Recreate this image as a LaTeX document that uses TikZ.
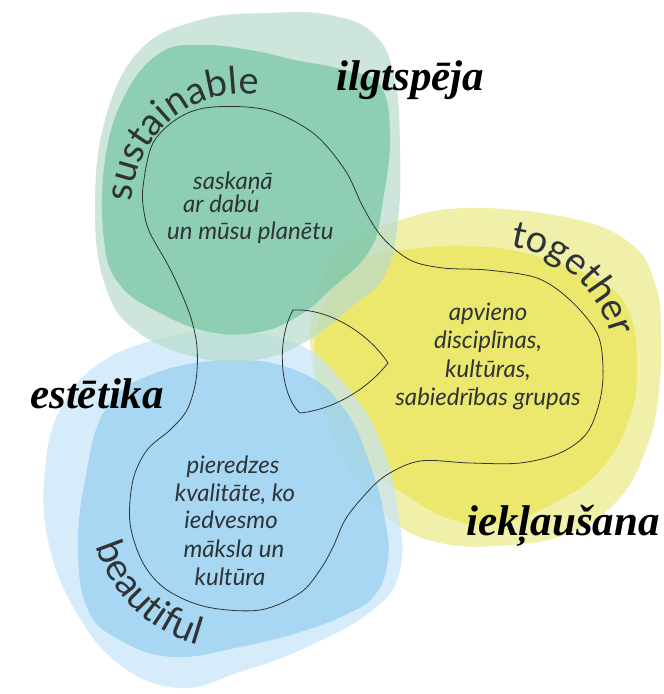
\documentclass[tikz,border=0pt]{standalone}
\usepackage{fontspec}
\setmainfont{Liberation Serif}
\setsansfont{Lato}
\usetikzlibrary{decorations.text}
\definecolor{gL}{HTML}{B8DBCD}
\definecolor{gD}{HTML}{74C5A3}
\definecolor{yL}{HTML}{ECEA86}
\definecolor{yD}{HTML}{E9E654}
\definecolor{bL}{HTML}{C6E4F8}
\definecolor{bD}{HTML}{94CFF0}
\definecolor{ink}{HTML}{2E3436}
\newcommand{\curvefont}{\sffamily\fontsize{38}{38}\selectfont\color{ink}}
\begin{document}
\begin{tikzpicture}[x=1pt,y=-1pt,
  blob/.style={draw=none, fill opacity=0.7},
  thinline/.style={draw=ink, line width=0.8pt},
  biglabel/.style={font=\bfseries\itshape\fontsize{43}{43}\selectfont, text=black, inner sep=0pt, anchor=base west},
  innertext/.style={font=\sffamily\itshape\fontsize{24}{24}\selectfont, text=ink, inner sep=0pt, anchor=base}]
\useasboundingbox (0,0) rectangle (664,694);
\fill[white] (0,0) rectangle (664,694);
% yellow blobs
\fill[blob, yL] plot[smooth cycle, tension=0.7] coordinates {(345,245) (400,220) (470,208) (570,218) (630,243) (655,283) (661,333) (658,400) (645,452) (618,500) (570,533) (510,545) (440,543) (387,517) (347,467) (320,400) (310,333) (320,285)};
\fill[blob, yD] plot[smooth cycle, tension=0.7] coordinates {(353,262) (403,250) (470,246) (537,256) (603,283) (630,315) (637,367) (630,417) (603,467) (560,500) (503,523) (453,520) (403,493) (353,453) (323,400) (315,340) (330,293)};
% blue blobs
\fill[blob, bL] plot[smooth cycle, tension=0.7] coordinates {(167,337) (233,332) (300,345) (345,385) (380,440) (398,510) (400,570) (373,610) (307,647) (240,672) (180,688) (120,665) (75,610) (48,540) (45,470) (60,410) (100,363)};
\fill[blob, bD] plot[smooth cycle, tension=0.7] coordinates {(150,375) (230,360) (300,372) (345,410) (372,470) (385,520) (388,560) (375,595) (345,615) (300,632) (240,647) (173,657) (120,640) (88,610) (78,550) (85,480) (105,410)};
% green blobs
\fill[blob, gL] plot[smooth cycle, tension=0.7] coordinates {(267,13) (330,15) (375,35) (395,80) (400,150) (398,220) (385,275) (350,308) (305,342) (255,360) (195,357) (135,330) (105,285) (95,210) (105,120) (140,50) (200,20)};
\fill[blob, gD] plot[smooth cycle, tension=0.7] coordinates {(160,53) (200,45) (250,50) (295,60) (345,70) (380,85) (390,135) (383,200) (370,250) (330,290) (300,315) (260,332) (210,332) (160,313) (120,285) (104,240) (105,160) (125,95)};
% thin outline
\draw[thinline] plot[smooth cycle, tension=0.55] coordinates {(150,233) (168,265) (180,290) (191,318) (197,347) (196,380) (187,410) (170,430) (147,450) (133,480) (130,523) (143,563) (167,590) (207,607) (260,610) (300,593) (320,570) (333,547) (345,520) (362,498) (385,476) (420,461) (470,463) (520,463) (560,453) (587,433) (600,400) (603,367) (597,333) (570,300) (537,278) (487,270) (443,268) (410,260) (382,237) (363,207) (345,170) (313,133) (267,110) (213,107) (180,117) (153,143) (143,187) (144,212)};
% lens
\coordinate (lt) at (293,310);
\coordinate (lr) at (388,363);
\coordinate (lb) at (300,413);
\draw[thinline] (lt) .. controls (330,308) and (370,335) .. (lr) .. controls (365,392) and (330,410) .. (lb) .. controls (280,395) and (276,340) .. (lt);
% curved labels
\path[decorate, decoration={text along path, text align=center, text={|\curvefont|sustainable}}]
  plot[domain=0:1, samples=80, variable=\t] ({243+111*cos(200-140*\t)},{205-111*sin(200-140*\t)});
\path[decorate, decoration={text along path, text align=center, text={|\curvefont|together}}]
  plot[domain=0:1, samples=80, variable=\t] ({493+122*cos(100-104*\t)},{367-122*sin(100-104*\t)});
\path[decorate, decoration={text along path, text align=center, text={|\curvefont|beautiful}}]
  plot[domain=0:1, samples=80, variable=\t] ({235+145*cos(170+112*\t)},{505-145*sin(170+112*\t)});
% big labels
\node[biglabel] (ilg) at (336,90) {ilgtspēja};
\node[biglabel] (est) at (30,408) {estētika};
\node[biglabel] (iek) at (466,535) {iekļaušana};
% inner texts green
\node[innertext, anchor=base west] (g1) at (193,189) {saskaņā};
\node[innertext, anchor=base west] (g2) at (183,212) {ar dabu};
\node[innertext, anchor=base west] (g3) at (167,239) {un mūsu planētu};
% inner texts yellow
\node[innertext] (y1) at (488,320) {apvieno};
\node[innertext] (y2) at (488,348) {disciplīnas,};
\node[innertext] (y3) at (488,377) {kultūras,};
\node[innertext] (y4) at (488,405) {sabiedrības grupas};
% inner texts blue
\node[innertext] (b1) at (233,473) {pieredzes};
\node[innertext] (b2) at (235,501) {kvalitāte, ko};
\node[innertext] (b3) at (231,528) {iedvesmo};
\node[innertext] (b4) at (234,557) {māksla un};
\node[innertext] (b5) at (230,585) {kultūra};
\end{tikzpicture}
\end{document}
